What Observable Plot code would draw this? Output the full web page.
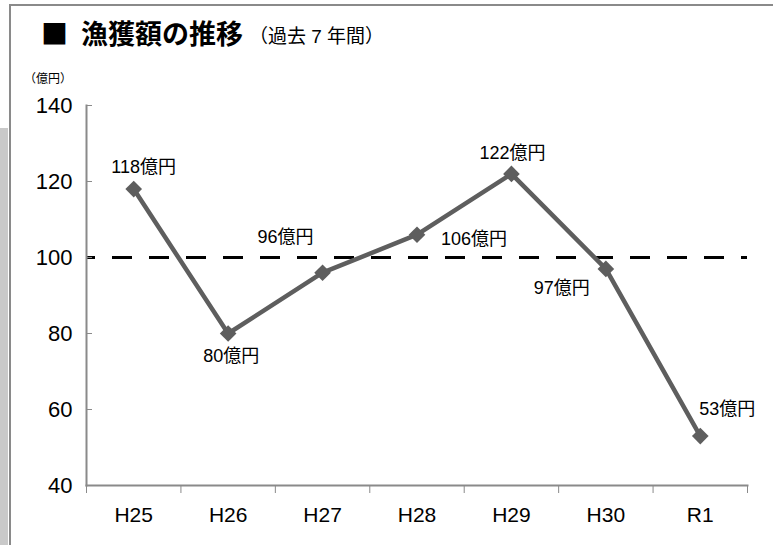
<!DOCTYPE html>
<html><head><meta charset="utf-8">
<script src="https://cdn.jsdelivr.net/npm/d3@7"></script>
<script src="https://cdn.jsdelivr.net/npm/@observablehq/plot@0.6"></script>
<style>
body{margin:0;background:#fff;font-family:"Liberation Sans","Noto Sans CJK JP",sans-serif;}
#wrap{position:relative;width:773px;height:545px;overflow:hidden;background:#fff;}
#band{position:absolute;left:0;top:128px;width:8px;height:417px;background:#c9c9c9;}
#frame{position:absolute;left:9px;top:4px;width:800px;height:600px;border-top:2px solid #8a8a8a;border-left:2px solid #8a8a8a;}
#title{position:absolute;left:41px;top:13px;white-space:nowrap;color:#000;font-family:"Noto Sans CJK JP",sans-serif;font-weight:700;font-size:27px;}
#title .sq{display:inline-block;margin-right:13px;}
#sub{position:absolute;left:249px;top:21px;white-space:nowrap;font-family:"Liberation Sans","Noto Sans CJK JP",sans-serif;font-size:19px;}
#unit{position:absolute;left:24px;top:69px;font-size:12px;font-family:"Noto Sans CJK JP",sans-serif;}
#chart{position:absolute;left:0;top:0;}
#chart text{font-weight:400;}
</style></head>
<body>
<div id="wrap">
  <div id="band"></div>
  <div id="frame"></div>
  <div id="chart"></div>
  <div id="title"><span class="sq">■</span>漁獲額の推移</div>
  <div id="sub">（過去 7 年間）</div>
  <div id="unit">（億円）</div>
</div>
<script>
const years = ["H25","H26","H27","H28","H29","H30","R1"];
const values = [118, 80, 96, 106, 122, 97, 53];
const yTicks = [40, 60, 80, 100, 120, 140];
const referenceLine = [100];
const unit = "億円";

const data = years.map((year, i) => ({i, year, value: values[i], label: values[i] + unit}));

// label placement offsets (dx, dy) per point, in pixels
const placement = [
  {dx: 10, dy: -22}, {dx: 3, dy: 23}, {dx: -37, dy: -35}, {dx: 57, dy: 5},
  {dx: 1, dy: -21}, {dx: -44, dy: 19}, {dx: 27, dy: -27}
];

const lineColor = "#5e5e5e";
const axisColor = "#8a8a8a";

const plot = Plot.plot({
  width: 773, height: 545,
  marginLeft: 86, marginRight: 26, marginTop: 105, marginBottom: 60,
  style: {fontFamily: '"Liberation Sans","Noto Sans CJK JP",sans-serif', background: "transparent", color: "#000"},
  x: {type: "linear", domain: [-0.5, years.length - 0.5]},
  y: {domain: [40, 140]},
  marks: [
    Plot.ruleY(referenceLine, {stroke: "#000", strokeWidth: 3, strokeDasharray: "20,17", strokeDashoffset: 11}),
    Plot.frame({anchor: "left", stroke: axisColor, strokeWidth: 2}),
    Plot.frame({anchor: "bottom", stroke: axisColor, strokeWidth: 2}),
    Plot.axisY({ticks: yTicks, tickSize: -6, tickPadding: 20, fontSize: 22, stroke: axisColor, fill: "#000", label: null}),
    Plot.axisX({ticks: d3.range(-0.5, years.length), tickFormat: () => "", tickSize: 8, stroke: axisColor, label: null}),
    Plot.axisX({ticks: d3.range(years.length), tickFormat: i => years[i], tickSize: 0, tickPadding: 22, fontSize: 21, fill: "#000", label: null}),
    Plot.line(data, {x: "i", y: "value", stroke: lineColor, strokeWidth: 4.5}),
    Plot.dot(data, {x: "i", y: "value", symbol: "diamond2", r: 7.5, fill: lineColor, stroke: "none"}),
    ...data.map((d, k) => Plot.text([d], {x: "i", y: "value", text: "label", fontSize: 18, fill: "#000",
      dx: placement[k].dx, dy: placement[k].dy}))
  ]
});
document.getElementById("chart").appendChild(plot);
</script>
</body></html>
